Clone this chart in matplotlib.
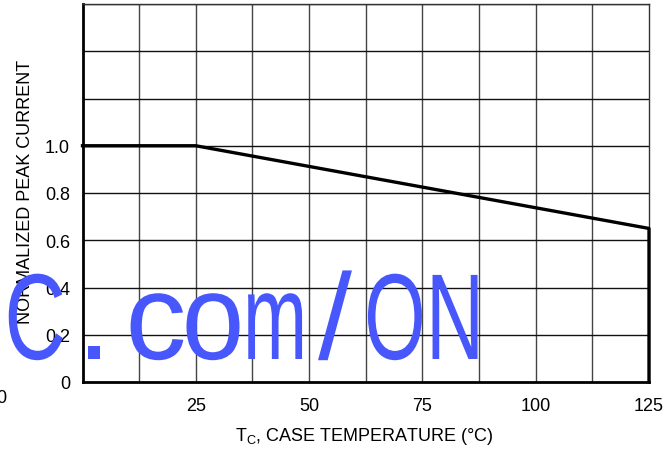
import matplotlib
matplotlib.use("Agg")
import matplotlib.pyplot as plt
import matplotlib.patheffects as pe
from matplotlib.transforms import Affine2D
import numpy as np

# derating curve
temp_c = [0, 25, 125, 125]
peak_current = [1.0, 1.0, 0.65, 0.0]

x_ticks = [25, 50, 75, 100, 125]
y_ticks = [0, 0.2, 0.4, 0.6, 0.8, 1.0]
y_tick_labels = ["0", "0.2", "0.4", "0.6", "0.8", "1.0"]

# watermark glyphs: centre and ink width in pixels
mark_chars = ["C", ".", "c", "o", "m", "/", "O", "N"]
mark_x = [35, 94, 156, 213, 275, 335, 395, 455]
mark_w = [54, 12, 53, 53, 54, 36, 54, 45]


class Squeeze(pe.AbstractPathEffect):
    """squash a glyph horizontally to a given ink width (pixels)"""

    def __init__(self, width):
        super().__init__()
        self.width = width

    def draw_path(self, renderer, gc, tpath, affine, rgbFace=None):
        ext = affine.transform_path(tpath).get_extents()
        cx = (ext.x0 + ext.x1) / 2
        sx = min(1.0, self.width / max(ext.width, 1e-6))
        tr = affine + Affine2D().translate(-cx, 0).scale(sx, 1).translate(cx, 0)
        renderer.draw_path(gc, tpath, tr, rgbFace)


W, H = 669, 452
plt.rcParams['font.family'] = ['Liberation Sans', 'DejaVu Sans']

fig = plt.figure(figsize=(W / 100, H / 100), dpi=100)
ax = fig.add_axes([82.5 / W, (H - 383) / H, (649 - 82.5) / W, 378 / H])

ax.set_xlim(0, 125)
ax.set_ylim(0, 1.6)
for gx in np.arange(12.5, 125, 12.5):
    ax.axvline(gx, color="#444444", lw=1.0, zorder=1)
for gy in np.arange(0.2, 1.61, 0.2):
    ax.axhline(gy, color="#111111", lw=1.0, zorder=1)

ax.plot(temp_c, peak_current, color="black", lw=2.4, clip_on=False, zorder=3)

ax.set_xticks(x_ticks)
ax.set_yticks(y_ticks)
ax.set_yticklabels(y_tick_labels)
ax.tick_params(length=0, labelsize=13)
ax.tick_params(axis="x", pad=11)
ax.tick_params(axis="y", pad=9)

for s in ["left", "bottom"]:
    ax.spines[s].set_linewidth(2.0)
for s in ["top", "right"]:
    ax.spines[s].set_linewidth(1.0)
    ax.spines[s].set_color("#333333")

fig.text(364 / W, 1 - 437 / H, "T$_\\mathregular{C}$, CASE TEMPERATURE (°C)",
         ha="center", va="center", fontsize=13)
fig.text(26 / W, 1 - 192 / H, "NORMALIZED PEAK CURRENT", rotation=90,
         ha="center", va="center", fontsize=13)
# stray clipped zero at lower left
fig.text(-4 / W, 1 - 399 / H, "0", ha="left", va="center", fontsize=13)

for ch, px, w in zip(mark_chars, mark_x, mark_w):
    fig.text(px / W, 1 - 360 / H, ch, ha="center", va="baseline",
             fontsize=88, color="#4757fb", zorder=10,
             path_effects=[Squeeze(w)])

fig.savefig("out.png", dpi=100)
